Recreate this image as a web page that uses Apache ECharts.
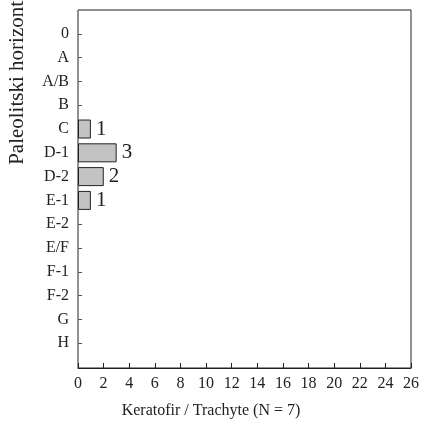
<!DOCTYPE html>
<html>
<head>
<meta charset="utf-8">
<script src="https://cdn.jsdelivr.net/npm/echarts@6/dist/echarts.min.js"></script>
<style>
  html, body { margin: 0; padding: 0; background: #fff; }
  #chart { width: 422px; height: 423px; }
</style>
</head>
<body>
<div id="chart"></div>
<script>
// Paleolithic horizons, top to bottom
const horizons = ['0', 'A', 'A/B', 'B', 'C', 'D-1', 'D-2', 'E-1', 'E-2', 'E/F', 'F-1', 'F-2', 'G', 'H'];
// Keratophyre / trachyte artefact counts per horizon (null = none)
const counts = [null, null, null, null, 1, 3, 2, 1, null, null, null, null, null, null];
const xMin = 0, xMax = 26, xStep = 2;
const xTitle = 'Keratofir / Trachyte (N = 7)';
const yTitle = 'Paleolitski horizonti';

const FONT = '"Liberation Serif", "DejaVu Serif", serif';
const INK = '#222';

const chart = echarts.init(document.getElementById('chart'), null, { renderer: 'canvas' });

chart.setOption({
  animation: false,
  backgroundColor: '#fff',
  grid: [
    // outer frame with the count scale
    { left: 78, right: 9, top: 10, bottom: 55, show: true, borderColor: INK, borderWidth: 1, backgroundColor: 'transparent' },
    // inner band where the horizon rows sit
    { left: 78, right: 9, top: 22, bottom: 68 }
  ],
  xAxis: [
    {
      gridIndex: 0, type: 'value', min: xMin, max: xMax, interval: xStep,
      axisLine: { show: true, lineStyle: { color: INK, width: 1 } },
      axisTick: { show: true, inside: true, length: 5, lineStyle: { color: INK } },
      axisLabel: { color: INK, fontFamily: FONT, fontSize: 16, margin: 8 },
      splitLine: { show: false }
    },
    { gridIndex: 1, type: 'value', min: xMin, max: xMax, show: false }
  ],
  yAxis: [
    { gridIndex: 0, type: 'value', show: false },
    {
      gridIndex: 1, type: 'category', data: horizons, inverse: true,
      axisLine: { show: false },
      axisTick: { show: true, inside: true, alignWithLabel: true, length: 4, lineStyle: { color: '#555' } },
      axisLabel: { color: INK, fontFamily: FONT, fontSize: 16, margin: 9 },
      splitLine: { show: false }
    }
  ],
  series: [{
    type: 'bar',
    xAxisIndex: 1, yAxisIndex: 1,
    data: counts,
    barWidth: 19,
    itemStyle: { color: '#c3c3c3', borderColor: INK, borderWidth: 1 },
    label: {
      show: true, position: 'right', distance: 5,
      color: INK, fontFamily: FONT, fontSize: 21
    }
  }],
  graphic: [
    {
      type: 'text', x: 211, y: 411,
      style: { text: xTitle, fill: INK, font: '16px ' + FONT, textAlign: 'center', textVerticalAlign: 'middle' }
    },
    {
      type: 'text', x: 17, y: 80, rotation: Math.PI / 2,
      style: { text: yTitle, fill: INK, font: '21px ' + FONT, textAlign: 'center', textVerticalAlign: 'middle' }
    }
  ]
});
</script>
</body>
</html>
